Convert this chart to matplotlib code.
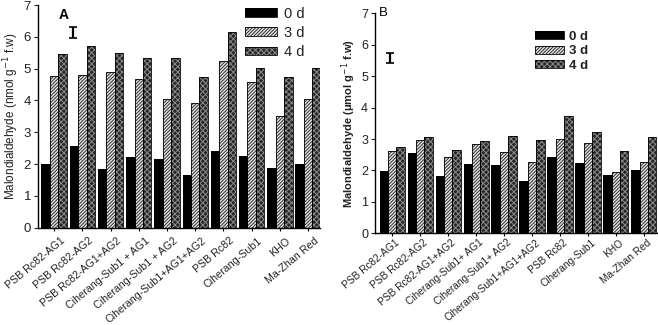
import numpy as np
import matplotlib
matplotlib.use("Agg")
import matplotlib.pyplot as plt
from matplotlib.patches import Patch
from matplotlib.legend_handler import HandlerTuple
from matplotlib.transforms import ScaledTranslation

plt.rcParams['font.family'] = ['Liberation Sans', 'DejaVu Sans']
plt.rcParams['hatch.linewidth'] = 0.7

labels_a = ["PSB Rc82-AG1", "PSB Rc82-AG2", "PSB Rc82-AG1+AG2", "Ciherang-Sub1 + AG1",
            "Ciherang-Sub1 + AG2", "Ciherang-Sub1+AG1+AG2", "PSB Rc82", "Ciherang-Sub1",
            "KHO", "Ma-Zhan Red"]
labels_b = ["PSB Rc82-AG1", "PSB Rc82-AG2", "PSB Rc82-AG1+AG2", "Ciherang-Sub1+ AG1",
            "Ciherang-Sub1+ AG2", "Ciherang-Sub1+AG1+AG2", "PSB Rc82", "Ciherang-Sub1",
            "KHO", "Ma-Zhan Red"]
series_names = ["0 d", "3 d", "4 d"]

a_0d = [2.00, 2.57, 1.84, 2.21, 2.17, 1.67, 2.41, 2.25, 1.87, 2.00]
a_3d = [4.77, 4.80, 4.90, 4.67, 4.05, 3.92, 5.25, 4.57, 3.51, 4.04]
a_4d = [5.45, 5.72, 5.50, 5.34, 5.34, 4.74, 6.14, 5.03, 4.73, 5.03]

b_0d = [1.99, 2.55, 1.82, 2.19, 2.16, 1.65, 2.42, 2.25, 1.86, 2.00]
b_3d = [2.62, 2.96, 2.44, 2.83, 2.59, 2.28, 3.00, 2.86, 1.96, 2.28]
b_4d = [2.76, 3.06, 2.65, 2.93, 3.11, 2.96, 3.74, 3.23, 2.62, 3.06]

lsd_a = (0.67, 6.14, 0.17)   # x, centre, half-length of LSD bar
lsd_b = (-0.08, 5.58, 0.16)

styles = [
    dict(face="black", hatch=None, hcol="black"),
    dict(face="#e6e6e6", hatch="//////////", hcol="#2e2e2e"),
    dict(face="#262626", hatch="xxxxxx", hcol="#8c8c8c"),
]

fig = plt.figure(figsize=(6.58, 3.25), dpi=100)

def draw(ax, vals, labels, xlim, lsd, fs_tick, fs_y, shift):
    x = np.arange(len(labels))
    w = 0.3
    for i, (v, st) in enumerate(zip(vals, styles)):
        pos = x + (i - 1) * w
        if st["hatch"]:
            ax.bar(pos, v, w, color=st["face"], hatch=st["hatch"],
                   edgecolor=st["hcol"], linewidth=0, zorder=2)
        else:
            ax.bar(pos, v, w, color=st["face"], linewidth=0, zorder=2)
        ax.bar(pos, v, w, fill=False, edgecolor="black", linewidth=0.6, zorder=3)
    ax.set_xlim(*xlim)
    ax.set_ylim(0, 7)
    ax.set_yticks(range(8))
    ax.spines['top'].set_visible(False)
    ax.spines['right'].set_visible(False)
    ax.spines['left'].set_linewidth(1.0)
    ax.spines['bottom'].set_linewidth(1.0)
    ax.tick_params(axis='y', labelsize=fs_y, length=3, width=0.8, pad=2, colors='#222222')
    ax.tick_params(axis='x', length=2, width=0.8, pad=1)
    ax.set_xticks(x)
    ax.set_xticklabels(labels, rotation=40, ha='right', va='top',
                       rotation_mode='anchor', fontsize=fs_tick, color='#222222')
    off = ScaledTranslation(shift[0] / 100, shift[1] / 100, fig.dpi_scale_trans)
    for lab in ax.get_xticklabels():
        lab.set_transform(lab.get_transform() + off)
    ax.errorbar([lsd[0]], [lsd[1]], yerr=[lsd[2]], fmt='none', ecolor='black',
                elinewidth=1.6, capsize=3, capthick=1.2, zorder=4)
    return ax

ax1 = fig.add_axes([38/658, 1-227.7/325, (320-38)/658, (227.7-5)/325])
draw(ax1, [a_0d, a_3d, a_4d], labels_a, (-0.57, 9.42), lsd_a, 7.7, 9.5, (6, -4))
ax1.set_ylabel("Malondialdehyde (nmol g$^{-1}$ f.w)", fontsize=8.5, labelpad=2, color='#222222')
ax1.text(0.09, 0.985, "A", transform=ax1.transAxes, fontsize=10, fontweight='bold',
         ha='center', va='top')

ax2 = fig.add_axes([375/658, 1-233.3/325, (657-375)/658, (233.3-13.3)/325])
draw(ax2, [b_0d, b_3d, b_4d], labels_b, (-0.615, 9.47), lsd_b, 7.3, 9, (3, 0))
ax2.set_ylabel("Malondialdehyde (\u03bcmol g$^{-1}$ f.w)", fontsize=8, labelpad=2,
               fontweight='bold', color='#222222')
ax2.text(0.03, 1.0, "B", transform=ax2.transAxes, fontsize=9.5,
         ha='center', va='center')

def make_handles():
    hs = []
    for st in styles:
        if st["hatch"]:
            base = Patch(facecolor=st["face"], hatch=st["hatch"], edgecolor=st["hcol"], linewidth=0)
        else:
            base = Patch(facecolor=st["face"], linewidth=0)
        outline = Patch(fill=False, edgecolor="black", linewidth=0.6)
        hs.append((base, outline))
    return hs

leg1 = ax1.legend(make_handles(), series_names, handler_map={tuple: HandlerTuple(ndivide=1)},
                  loc='upper left', bbox_to_anchor=(242/658, 1-4/325),
                  bbox_transform=fig.transFigure, frameon=False, fontsize=10.5,
                  handlelength=2.2, handleheight=0.55, labelspacing=0.35, handletextpad=0.5,
                  borderaxespad=0, borderpad=0.2)
for t in leg1.get_texts():
    t.set_color('#222222')

leg2 = ax2.legend(make_handles(), series_names, handler_map={tuple: HandlerTuple(ndivide=1)},
                  loc='upper left', bbox_to_anchor=(532/658, 1-28/325),
                  bbox_transform=fig.transFigure, frameon=False,
                  handlelength=2.2, handleheight=0.55, labelspacing=0.2, handletextpad=0.4,
                  borderaxespad=0, borderpad=0.2, prop={'weight': 'bold', 'size': 9.5})
for t in leg2.get_texts():
    t.set_color('#222222')

fig.savefig("out.png", dpi=100)
